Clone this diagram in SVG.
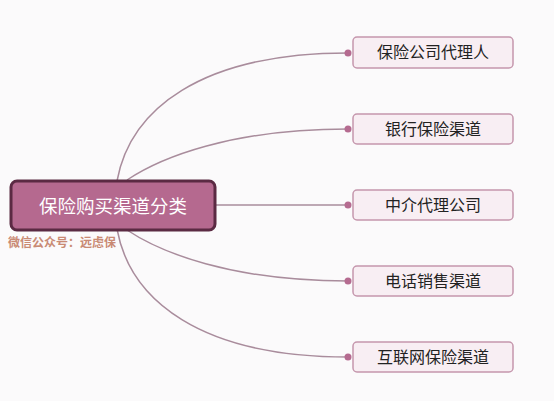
<svg xmlns="http://www.w3.org/2000/svg" width="554" height="401" viewBox="0 0 554 401">
<style>
.bg{fill:#fbfafb}
.edge{fill:none;stroke:#a98c9c;stroke-width:1.5}
.dot{fill:#b56b90}
.leaf rect{fill:#f8eef3;stroke:#c597ad;stroke-width:1.5}
.leaf text{font-family:"Noto Sans CJK SC","Noto Sans",sans-serif;font-size:16px;fill:#222;text-anchor:middle}
.root rect{fill:#b5698f;stroke:#5b2a43;stroke-width:3}
.root text{font-family:"Noto Sans CJK SC","Noto Sans",sans-serif;font-size:18.5px;fill:#fff;text-anchor:middle}
.wm{font-family:"Noto Sans CJK SC",serif;font-size:12px;fill:#c98a74;font-weight:bold}
</style>
<rect class="bg" width="554" height="401"/>
<g id="connectors">
<path class="edge" d="M117,181 C130,110 200,53 348,53"/>
<path class="edge" d="M127,180 C160,158 230,129 348,129"/>
<path class="edge" d="M216,205 L348,205"/>
<path class="edge" d="M127,230 C160,252 230,281 348,281"/>
<path class="edge" d="M117,229 C130,300 200,357 348,357"/>
<circle class="dot" cx="348" cy="53" r="3.5"/>
<circle class="dot" cx="348" cy="129" r="3.5"/>
<circle class="dot" cx="348" cy="205" r="3.5"/>
<circle class="dot" cx="348" cy="281" r="3.5"/>
<circle class="dot" cx="348" cy="357" r="3.5"/>
</g>
<g id="root" class="root">
<rect x="11" y="181" width="204" height="49" rx="6"/>
<text x="113" y="213">保险购买渠道分类</text>
</g>
<text class="wm" x="8" y="247">微信公众号：远虑保</text>
<g id="n1" class="leaf"><rect x="353" y="37" width="160" height="31" rx="4"/><text x="433" y="58">保险公司代理人</text></g>
<g id="n2" class="leaf"><rect x="353" y="114" width="160" height="30" rx="4"/><text x="433" y="135">银行保险渠道</text></g>
<g id="n3" class="leaf"><rect x="353" y="190" width="160" height="30" rx="4"/><text x="433" y="211">中介代理公司</text></g>
<g id="n4" class="leaf"><rect x="353" y="266" width="160" height="30" rx="4"/><text x="433" y="287">电话销售渠道</text></g>
<g id="n5" class="leaf"><rect x="353" y="342" width="160" height="30" rx="4"/><text x="433" y="363">互联网保险渠道</text></g>
</svg>
